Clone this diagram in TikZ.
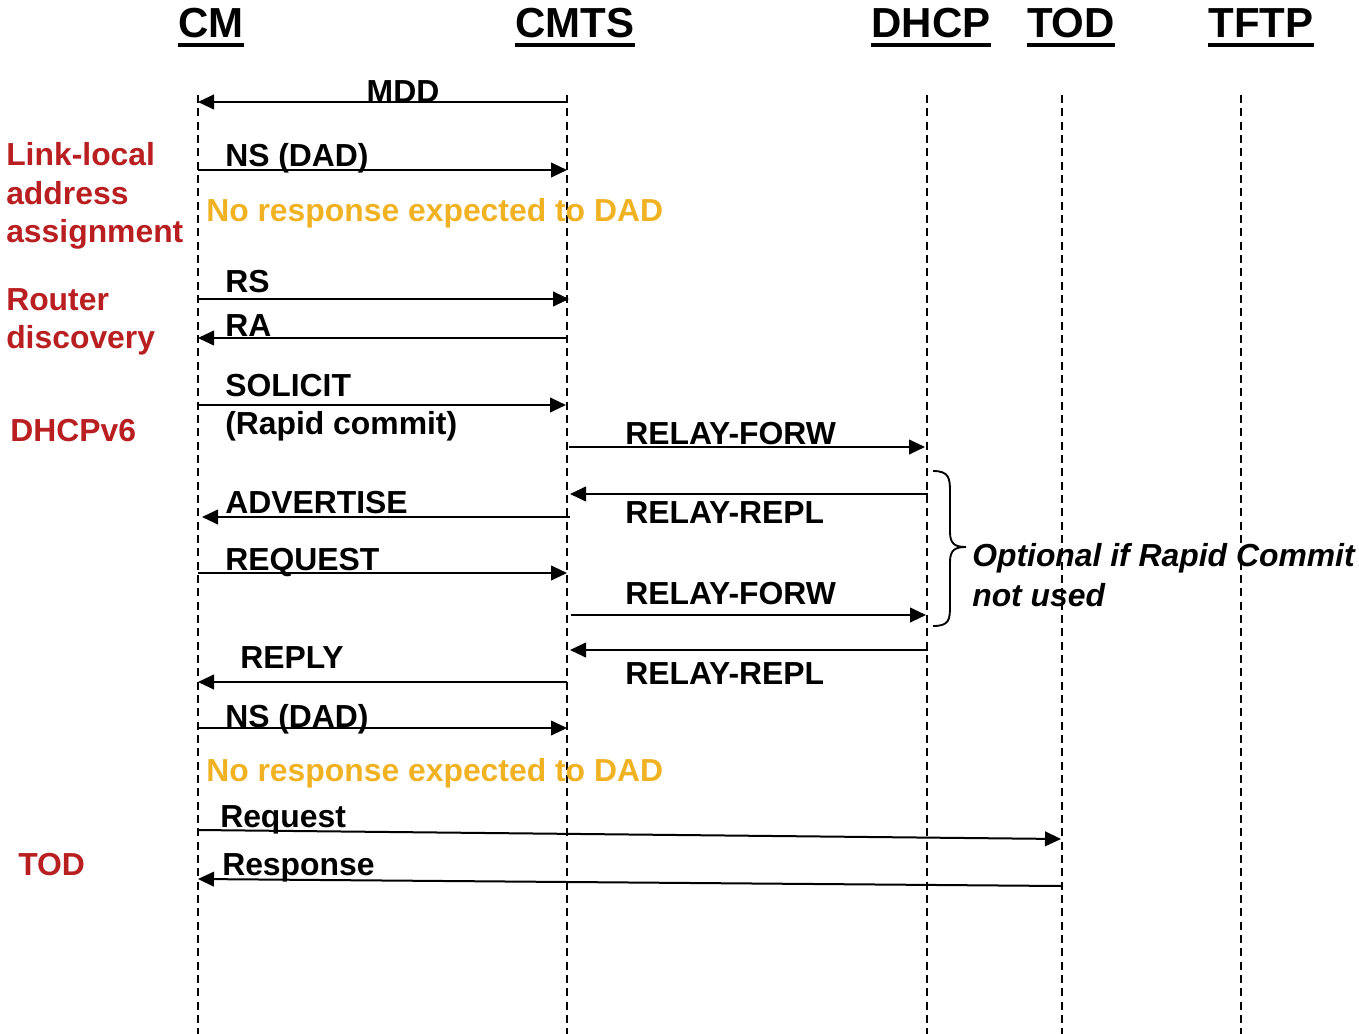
\documentclass[tikz,border=0pt]{standalone}
\usepackage{fontspec}
\setmainfont{Liberation Sans}
\usetikzlibrary{arrows.meta}
\definecolor{phase}{RGB}{185,30,32}
\definecolor{note}{RGB}{240,178,35}
\begin{document}
\begin{tikzpicture}[x=0.75pt,y=-0.75pt,
  lifeline/.style={line width=1.4pt,dash pattern=on 6pt off 4pt},
  msg/.style={line width=1.5pt,-{Triangle[length=12pt,width=11pt]}},
  head/.style={font=\fontsize{31.5}{36}\selectfont\bfseries,anchor=base,inner sep=0pt},
  lbl/.style={font=\fontsize{23.9}{28}\selectfont\bfseries,anchor=base west,inner sep=0pt},
  phaselbl/.style={lbl,text=phase},
  notelbl/.style={lbl,text=note},
  ulined/.style={line width=3pt}]
\useasboundingbox (0,0) rectangle (1359,1034);

% column headings
\foreach \nm/\x/\t in {hcm/211/CM,hcmts/575/CMTS,hdhcp/931/DHCP,htod/1071/TOD,htftp/1261/TFTP}{
  \node[head] (\nm) at (\x,38) {\t};
  \draw[ulined] (\nm.west |- 0,45) -- (\nm.east |- 0,45);
}

% lifelines
\foreach \nm/\x in {cm/198,cmts/567,dhcp/927,tod/1062,tftp/1241}{
  \coordinate (\nm top) at (\x,95);
  \coordinate (\nm bot) at (\x,1034);
  \draw[lifeline] (\nm top) -- (\nm bot);
}

% phase labels
\node[phaselbl] (p1a) at (6,166) {Link-local};
\node[phaselbl] (p1b) at (6,205) {address};
\node[phaselbl] (p1c) at (6,243) {assignment};
\node[phaselbl] (p2a) at (6,310) {Router};
\node[phaselbl] (p2b) at (6,348) {discovery};
\node[phaselbl] (p3) at (10,441) {DHCPv6};
\node[phaselbl] (p4) at (18,875) {TOD};

% message end points
\coordinate (a1) at (567,102);  \coordinate (b1) at (198,102);
\coordinate (a2) at (198,170);  \coordinate (b2) at (567,170);
\coordinate (a3) at (198,299);  \coordinate (b3) at (569,299);
\coordinate (a4) at (567,338);  \coordinate (b4) at (198,338);
\coordinate (a5) at (198,405);  \coordinate (b5) at (566,405);
\coordinate (a6) at (569,447);  \coordinate (b6) at (925,447);
\coordinate (a7) at (928,494);  \coordinate (b7) at (570,494);
\coordinate (a8) at (570,517);  \coordinate (b8) at (202,517);
\coordinate (a9) at (198,573);  \coordinate (b9) at (567,573);
\coordinate (a10) at (571,615); \coordinate (b10) at (926,615);
\coordinate (a11) at (928,650); \coordinate (b11) at (570,650);
\coordinate (a12) at (567,682); \coordinate (b12) at (198,682);
\coordinate (a13) at (198,728); \coordinate (b13) at (567,728);
\coordinate (a14) at (198,830); \coordinate (b14) at (1061,839);
\coordinate (a15) at (1061,886);\coordinate (b15) at (198,879);

% messages
\foreach \i in {1,...,15}{\draw[msg] (a\i) -- (b\i);}

% message labels
\node[lbl,anchor=base] (m1) at (403,103) {MDD};
\node[lbl] (m2) at (225,167) {NS (DAD)};
\node[notelbl] (n1) at (206,222) {No response expected to DAD};
\node[lbl] (m3) at (225,292) {RS};
\node[lbl] (m4) at (225,336) {RA};
\node[lbl] (m5) at (225,396) {SOLICIT};
\node[lbl] (m5b) at (225,434) {(Rapid commit)};
\node[lbl] (m6) at (625,444) {RELAY-FORW};
\node[lbl] (m7) at (625,523) {RELAY-REPL};
\node[lbl] (m8) at (225,513) {ADVERTISE};
\node[lbl] (m9) at (225,570) {REQUEST};
\node[lbl] (m10) at (625,604) {RELAY-FORW};
\node[lbl] (m11) at (625,684) {RELAY-REPL};
\node[lbl] (m12) at (240,668) {REPLY};
\node[lbl] (m13) at (225,727) {NS (DAD)};
\node[notelbl] (n2) at (206,781) {No response expected to DAD};
\node[lbl] (m14) at (220,827) {Request};
\node[lbl] (m15) at (222,875) {Response};

% brace around the optional exchange
\coordinate (brtop) at (933,471);
\coordinate (brtip) at (966,547);
\coordinate (brbot) at (933,626);
\draw[line width=1.4pt] (brtop) .. controls (949,471) and (950,478) .. (950,492)
  -- (950,532) .. controls (950,544) and (955,547) .. (brtip)
  .. controls (955,547) and (950,550) .. (950,562)
  -- (950,606) .. controls (950,620) and (949,626) .. (brbot);
\node[lbl,font=\fontsize{23.9}{28}\selectfont\bfseries\itshape] (opt1) at (972,566) {Optional if Rapid Commit};
\node[lbl,font=\fontsize{23.9}{28}\selectfont\bfseries\itshape] (opt2) at (972,606) {not used};
\end{tikzpicture}
\end{document}
